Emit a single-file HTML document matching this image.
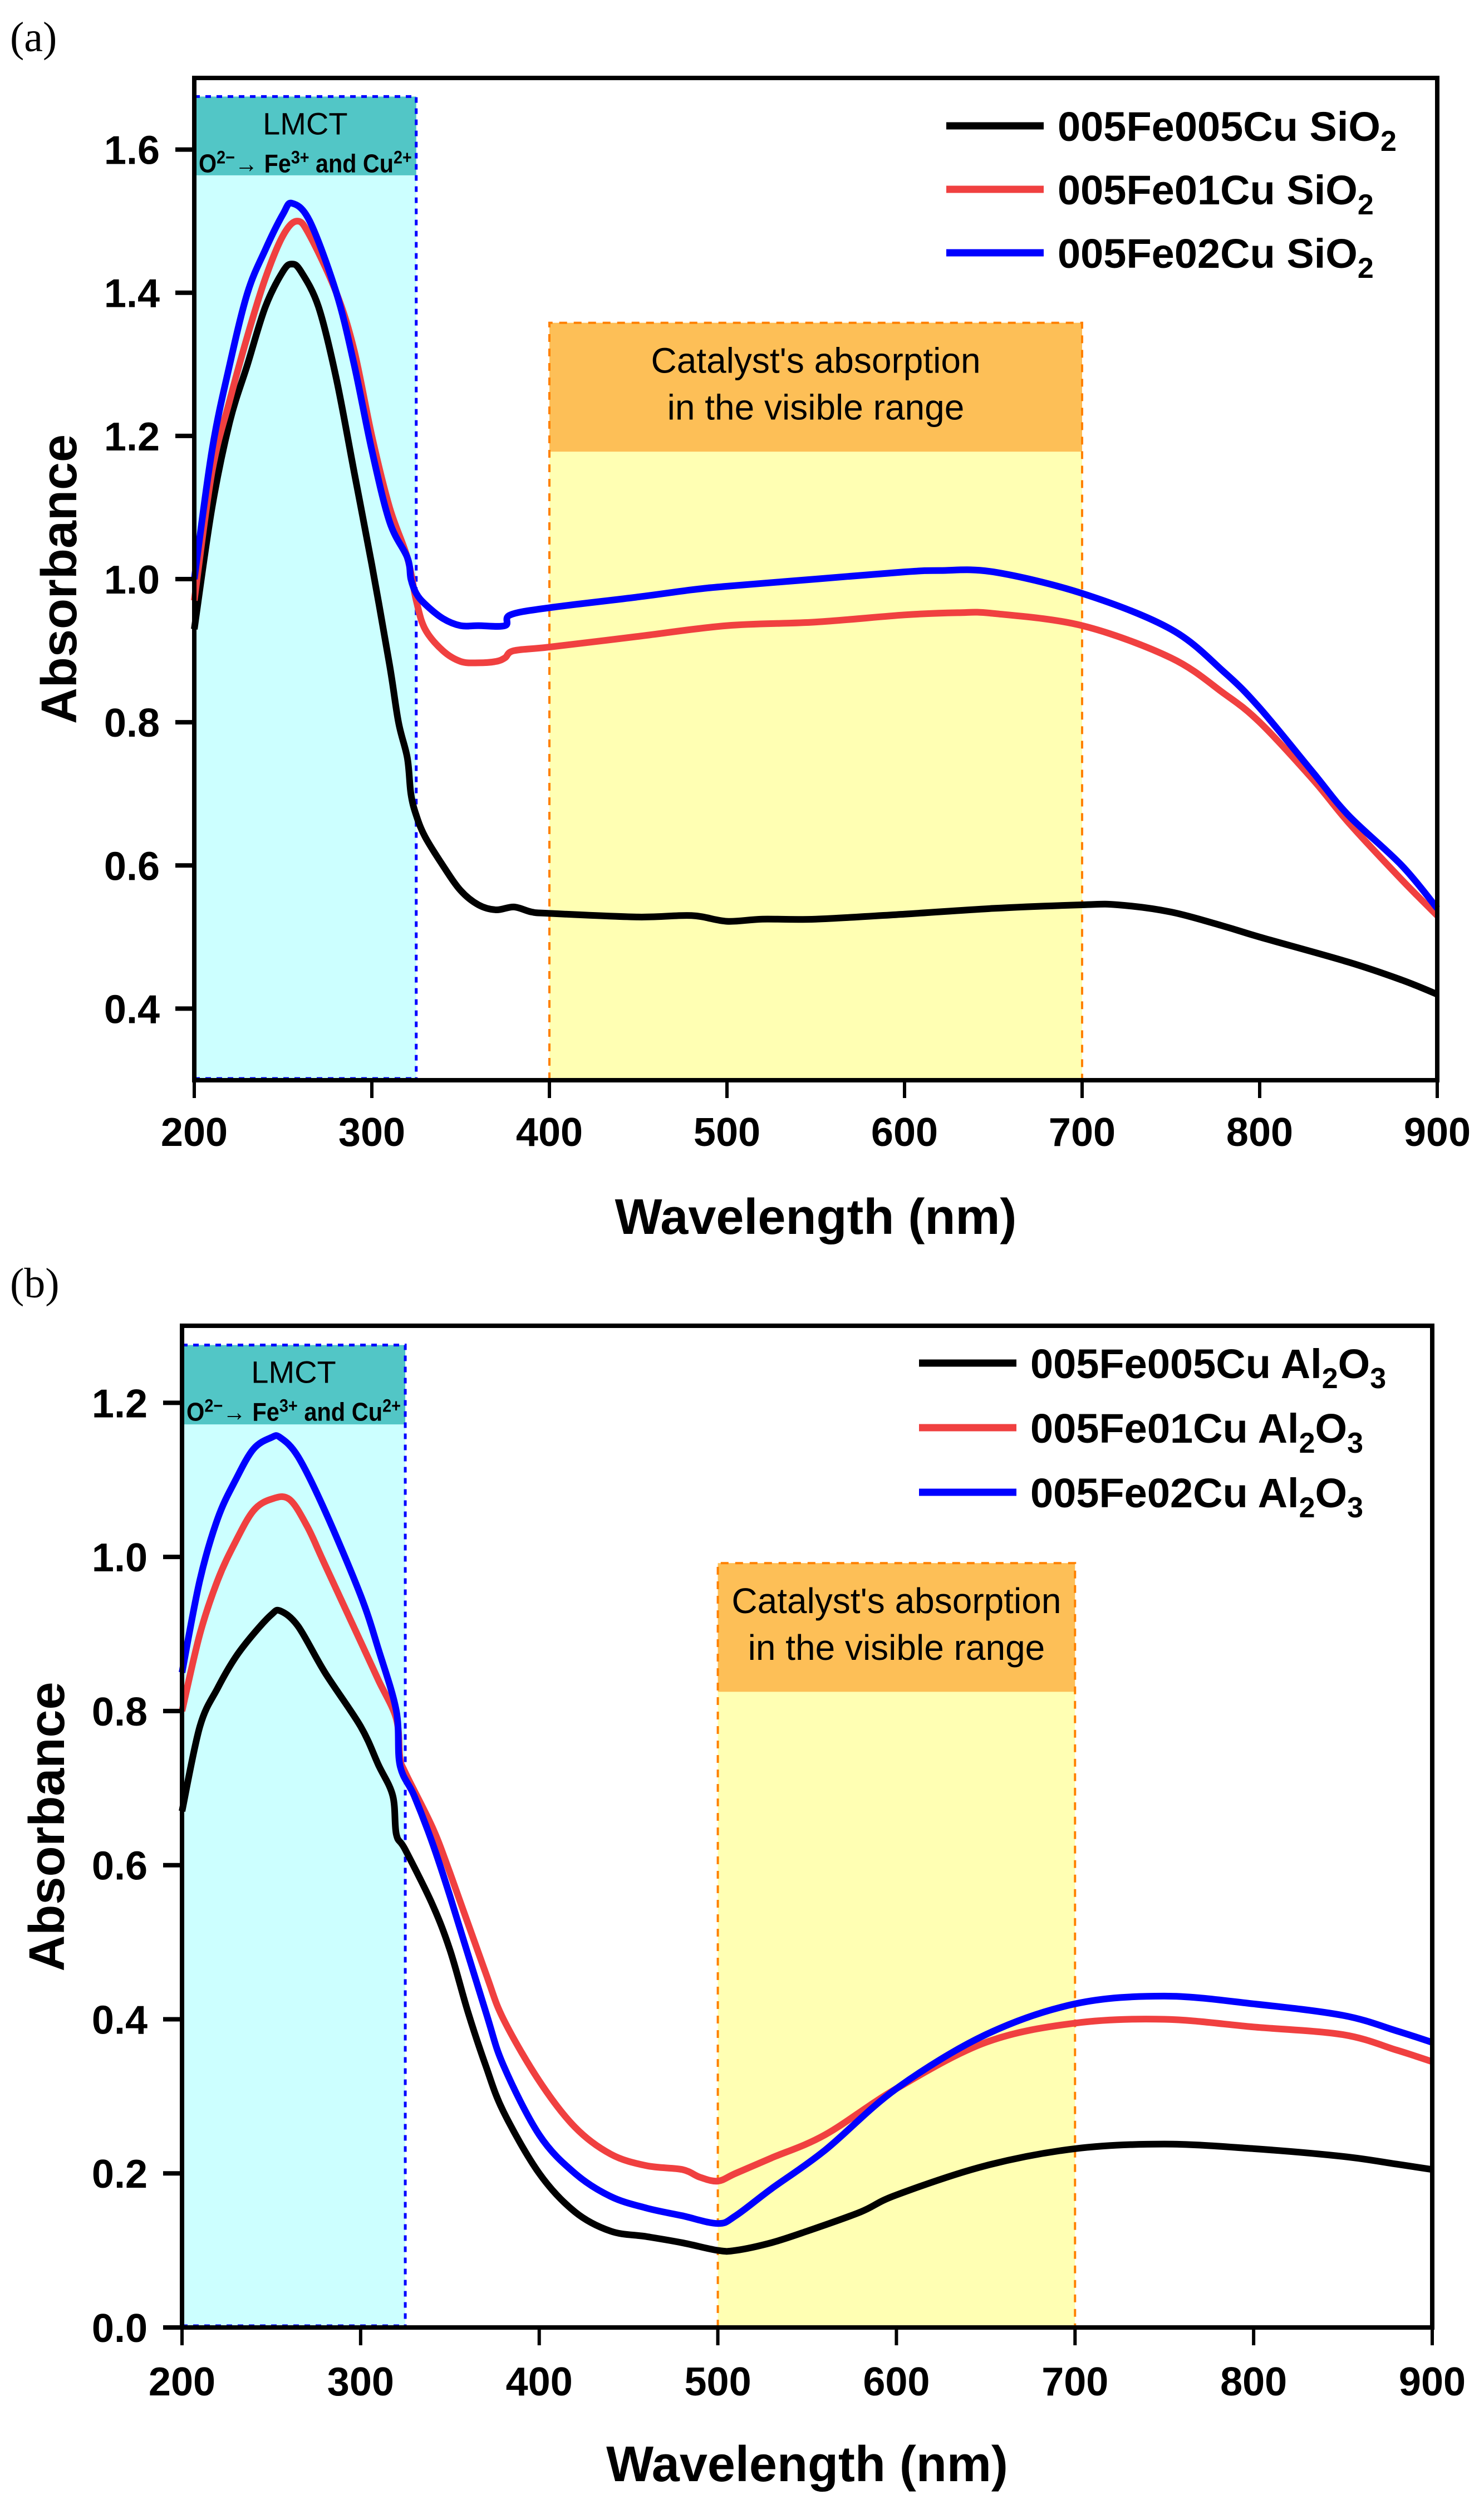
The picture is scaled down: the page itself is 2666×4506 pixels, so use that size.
<!DOCTYPE html>
<html><head><meta charset="utf-8"><style>
html,body{margin:0;padding:0;background:#fff}
svg{display:block}
text{font-family:"Liberation Sans",Arial,sans-serif}
</style></head><body>
<svg id="fig" width="2666" height="4506" viewBox="0 0 2666 4506" xmlns="http://www.w3.org/2000/svg">
<text x="18" y="92" style="font-family:'Liberation Serif',serif" font-size="76">(a)</text>
<text x="18" y="2330" style="font-family:'Liberation Serif',serif" font-size="76">(b)</text>
<g id="pa"></g>
<g id="pb"></g>
</svg>
<script>
const xTicks=[200,300,400,500,600,700,800,900];
const yTicksA=[0.4,0.6,0.8,1.0,1.2,1.4,1.6];
const yTicksB=[0.0,0.2,0.4,0.6,0.8,1.0,1.2];
const aX=[200,210,220,230,240,250,255,260,270,280,290,300,310,315,320,322,325,330,340,350,360,370,380,390,400,450,480,500,520,550,600,650,700,720,750,780,800,850,880,900];
const aBlack=[0.93,1.1,1.22,1.30,1.38,1.43,1.44,1.43,1.38,1.28,1.15,1.02,0.88,0.80,0.75,0.70,0.67,0.64,0.60,0.565,0.545,0.538,0.542,0.535,0.533,0.528,0.530,0.522,0.525,0.525,0.532,0.540,0.545,0.545,0.535,0.515,0.500,0.465,0.44,0.42];
const aRedX=[200,210,220,230,240,250,258,265,280,290,300,310,320,325,330,340,350,360,370,375,380,400,450,500,550,600,630,650,700,750,780,800,830,850,880,900];
const aRed=[0.97,1.15,1.25,1.34,1.42,1.48,1.50,1.48,1.40,1.32,1.20,1.10,1.03,0.97,0.93,0.90,0.885,0.883,0.885,0.89,0.90,0.905,0.92,0.935,0.94,0.95,0.953,0.952,0.935,0.89,0.84,0.80,0.72,0.66,0.58,0.53];
const aBlueX=[200,210,220,230,240,250,255,265,280,290,300,310,320,322,325,330,340,350,360,375,378,400,450,480,500,550,600,620,650,700,750,780,800,830,850,880,900];
const aBlue=[1.0,1.18,1.30,1.40,1.46,1.51,1.525,1.50,1.40,1.30,1.18,1.08,1.03,1.00,0.98,0.965,0.945,0.935,0.935,0.935,0.95,0.96,0.975,0.985,0.99,1.0,1.01,1.012,1.01,0.98,0.93,0.87,0.82,0.73,0.67,0.60,0.54];
const bBlackX=[200,210,220,230,240,250,255,265,280,300,310,318,320,325,340,350,360,370,380,400,420,440,460,480,500,510,530,550,580,600,650,700,750,800,850,880,900];
const bBlack=[0.67,0.78,0.83,0.87,0.90,0.925,0.93,0.91,0.85,0.78,0.73,0.69,0.64,0.62,0.55,0.49,0.41,0.34,0.28,0.20,0.15,0.125,0.118,0.11,0.10,0.10,0.11,0.125,0.15,0.172,0.21,0.232,0.238,0.232,0.222,0.212,0.205];
const bRedX=[200,210,220,230,240,250,260,270,280,300,310,320,322,325,340,350,370,380,400,420,440,460,480,490,500,510,530,560,600,650,700,750,800,850,880,900];
const bRed=[0.80,0.90,0.97,1.02,1.06,1.075,1.075,1.04,0.99,0.89,0.84,0.79,0.74,0.72,0.65,0.59,0.46,0.40,0.32,0.26,0.225,0.21,0.205,0.195,0.19,0.20,0.22,0.25,0.31,0.37,0.395,0.40,0.39,0.38,0.36,0.345];
const bBlueX=[200,210,220,230,240,250,255,265,280,300,310,320,322,330,340,350,370,380,400,420,440,460,480,500,510,530,560,600,650,700,750,800,850,880,900];
const bBlue=[0.85,0.97,1.05,1.10,1.14,1.155,1.155,1.13,1.06,0.95,0.88,0.80,0.73,0.69,0.63,0.56,0.41,0.34,0.25,0.20,0.17,0.155,0.145,0.135,0.145,0.18,0.23,0.31,0.38,0.42,0.43,0.42,0.405,0.385,0.37];

const NS="http://www.w3.org/2000/svg";
function mk(p,t,a){const e=document.createElementNS(NS,t);for(const k in a)e.setAttribute(k,a[k]);p.appendChild(e);return e;}
function smooth(pts){
  let d='M'+pts[0][0].toFixed(1)+' '+pts[0][1].toFixed(1);
  for(let i=0;i<pts.length-1;i++){
    const p0=pts[i-1]||pts[i],p1=pts[i],p2=pts[i+1],p3=pts[i+2]||p2;
    const c1x=p1[0]+(p2[0]-p0[0])/6,c1y=p1[1]+(p2[1]-p0[1])/6;
    const c2x=p2[0]-(p3[0]-p1[0])/6,c2y=p2[1]-(p3[1]-p1[1])/6;
    d+='C'+c1x.toFixed(1)+' '+c1y.toFixed(1)+' '+c2x.toFixed(1)+' '+c2y.toFixed(1)+' '+p2[0].toFixed(1)+' '+p2[1].toFixed(1);
  }
  return d;
}

function panel(g,cfg){
  const sx=v=>cfg.L+(v-200)/700*(cfg.R-cfg.L);
  const sy=v=>cfg.B-(v-cfg.ymin)/(cfg.ymax-cfg.ymin)*(cfg.B-cfg.T);
  let r=mk(g,'rect',{x:cfg.L,y:sy(cfg.cyTop),width:sx(325)-cfg.L,height:cfg.B-sy(cfg.cyTop),fill:'#ccffff'});
  
  r=mk(g,'rect',{x:cfg.L,y:sy(cfg.cyTop),width:sx(325)-cfg.L,height:sy(cfg.cyHead)-sy(cfg.cyTop),fill:'#52c6c6'});
  
  mk(g,'path',{d:`M${cfg.L} ${sy(cfg.cyTop)}H${sx(325)}V${cfg.B}M${cfg.L} ${cfg.B-3}H${sx(325)}`,stroke:'#0000ff','stroke-width':5,'stroke-dasharray':'10 10',fill:'none'});
  const y0=cfg.yl[0],y1=cfg.yl[1];
  r=mk(g,'rect',{x:sx(y0),y:sy(cfg.ylTop),width:sx(y1)-sx(y0),height:cfg.B-sy(cfg.ylTop),fill:'#ffffb3'});
  
  r=mk(g,'rect',{x:sx(y0),y:sy(cfg.ylTop),width:sx(y1)-sx(y0),height:sy(cfg.ylHead)-sy(cfg.ylTop),fill:'#fdbf57'});
  
  mk(g,'path',{d:`M${sx(y0)} ${cfg.B}V${sy(cfg.ylTop)}H${sx(y1)}V${cfg.B}`,stroke:'#ff8000','stroke-width':4,'stroke-dasharray':'14 12',fill:'none'});
  const cx=(cfg.L+sx(325))/2;
  let t=mk(g,'text',{x:cx,y:sy(cfg.cyTop)+68,'font-size':56,'text-anchor':'middle'});t.textContent='LMCT';
  
  t=mk(g,'text',{x:cx,y:sy(cfg.cyTop)+136,'font-size':46,'font-weight':'bold','text-anchor':'middle',textLength:sx(325)-cfg.L-16,lengthAdjust:'spacingAndGlyphs'});
  t.innerHTML='O<tspan dy="-16" font-size="32">2−</tspan><tspan dy="16" font-weight="normal">→ </tspan>Fe<tspan dy="-16" font-size="32">3+</tspan><tspan dy="16"> and Cu</tspan><tspan dy="-16" font-size="32">2+</tspan>';
  
  const ycx=(sx(y0)+sx(y1))/2, hy=sy(cfg.ylTop);
  t=mk(g,'text',{x:ycx,y:hy+90,'font-size':64,'text-anchor':'middle'});t.textContent="Catalyst's absorption";
  
  t=mk(g,'text',{x:ycx,y:hy+174,'font-size':64,'text-anchor':'middle'});t.textContent="in the visible range";
  
  const ser=[[cfg.s[0],cfg.s[1],'#000000','series-black'],[cfg.s[2],cfg.s[3],'#f04040','series-red'],[cfg.s[4],cfg.s[5],'#0000ff','series-blue']];
  ser.forEach(s=>{
    const pts=s[0].map((x,i)=>[sx(x),sy(s[1][i])]);
    const p=mk(g,'path',{d:smooth(pts),stroke:s[2],'stroke-width':12,fill:'none','stroke-linejoin':'round'});
    
  });
  const f=mk(g,'rect',{x:cfg.L,y:cfg.T,width:cfg.R-cfg.L,height:cfg.B-cfg.T,fill:'none',stroke:'#000','stroke-width':8});
  
  xTicks.forEach(v=>{
    mk(g,'line',{x1:sx(v),x2:sx(v),y1:cfg.B,y2:cfg.B+32,stroke:'#000','stroke-width':6});
    const tt=mk(g,'text',{x:sx(v),y:cfg.B+cfg.xtOff,'font-size':72,'font-weight':'bold','text-anchor':'middle'});tt.textContent=v;
    
  });
  cfg.yt.forEach(v=>{
    mk(g,'line',{x1:cfg.L-34,x2:cfg.L,y1:sy(v),y2:sy(v),stroke:'#000','stroke-width':8});
    const tt=mk(g,'text',{x:cfg.L-62,y:sy(v)+26,'font-size':72,'font-weight':'bold','text-anchor':'end'});tt.textContent=v.toFixed(1);
    
  });
  t=mk(g,'text',{x:(cfg.L+cfg.R)/2,y:cfg.B+276,'font-size':90,'font-weight':'bold','text-anchor':'middle'});t.textContent='Wavelength (nm)';
  
  const my=(cfg.T+cfg.B)/2;
  t=mk(g,'text',{x:0,y:0,'font-size':90,'font-weight':'bold','text-anchor':'middle',transform:`translate(${cfg.L-212},${my}) rotate(-90)`});t.textContent='Absorbance';
  
  const cols=['#000000','#f04040','#0000ff'];
  cfg.leg.forEach((lab,i)=>{
    const ly=cfg.legY+i*cfg.legDy;
    const l=mk(g,'line',{x1:cfg.legX,x2:cfg.legX+175,y1:ly,y2:ly,stroke:cols[i],'stroke-width':13});
    
    const tt=mk(g,'text',{x:cfg.legX+200,y:ly+27,'font-size':74,'font-weight':'bold'});
    tt.innerHTML=lab[0]+'<tspan dy="18" font-size="52">'+lab[1]+'</tspan><tspan dy="-18">'+lab[2]+'</tspan>'+(lab[3]?'<tspan dy="18" font-size="52">'+lab[3]+'</tspan>':'');
    
  });
}
panel(document.getElementById('pa'),{L:349,R:2582,T:140,B:1940,ymin:0.3,ymax:1.7,yt:yTicksA,xtOff:118,
  cyTop:1.674,cyHead:1.564,yl:[400,700],ylTop:1.358,ylHead:1.178,
  s:[aX,aBlack,aRedX,aRed,aBlueX,aBlue],legX:1700,legY:226,legDy:114,
  leg:[['005Fe005Cu SiO','2',''],['005Fe01Cu SiO','2',''],['005Fe02Cu SiO','2','']]});
panel(document.getElementById('pb'),{L:327,R:2573,T:2381,B:4180,ymin:0,ymax:1.3,yt:yTicksB,xtOff:122,
  cyTop:1.275,cyHead:1.172,yl:[500,700],ylTop:0.992,ylHead:0.825,
  s:[bBlackX,bBlack,bRedX,bRed,bBlueX,bBlue],legX:1651,legY:2448,legDy:116,
  leg:[['005Fe005Cu Al','2','O','3'],['005Fe01Cu Al','2','O','3'],['005Fe02Cu Al','2','O','3']]});
</script>
</body></html>
